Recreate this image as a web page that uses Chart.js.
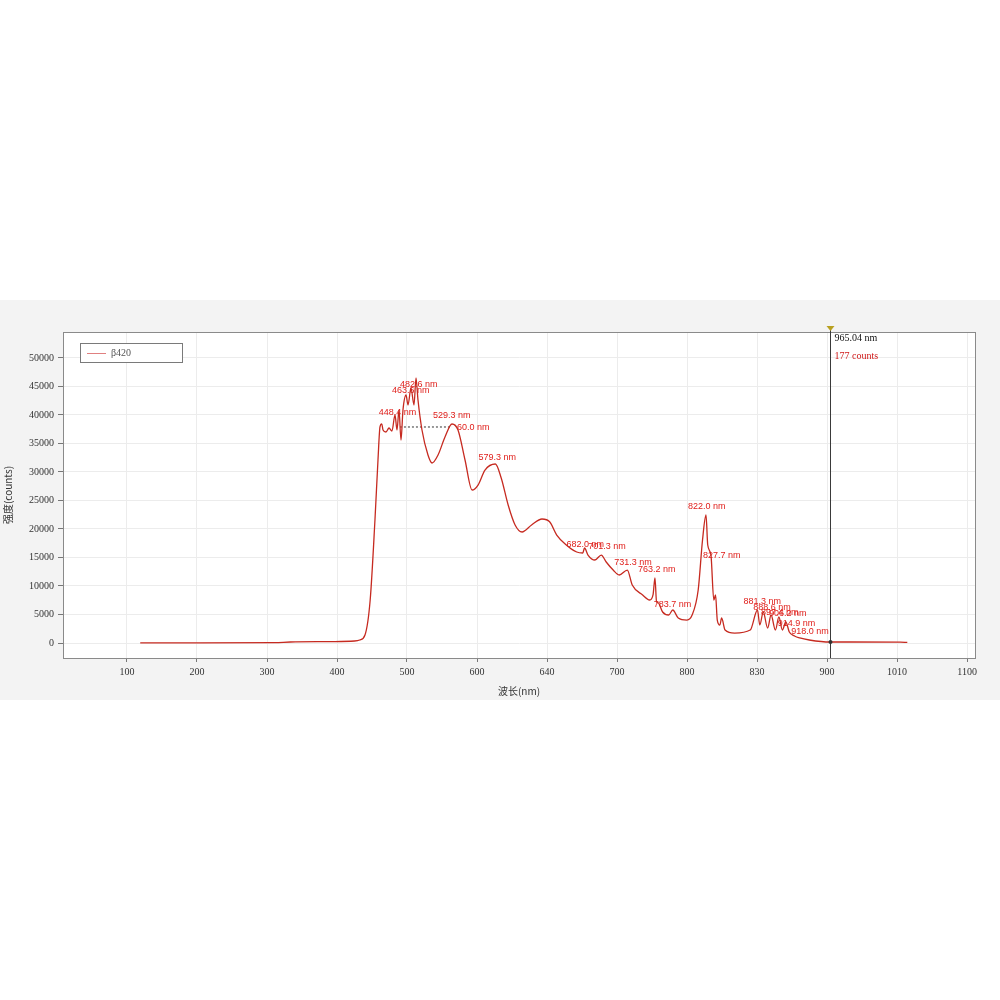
<!DOCTYPE html>
<html>
<head>
<meta charset="utf-8">
<script src="https://cdn.jsdelivr.net/npm/chart.js@4"></script>
<style>
  html, body { margin: 0; padding: 0; background: #ffffff; }
  #band { position: absolute; left: 0; top: 300px; width: 1000px; height: 400px; background: #f3f3f3; }
</style>
</head>
<body>
<div id="band"><canvas id="spec" width="1000" height="400"></canvas></div>
<script>
//---------------------------------------------------------------------
// DONNÉES DU SPECTRE
//---------------------------------------------------------------------
const wavelength = [170, 239, 325, 343, 389, 417, 423, 429, 435, 440.5, 444, 446.3, 448.4, 449.8, 453.2, 456.7, 460.1,
  463.6, 465.9, 468.2, 470.5, 472.8, 476.3, 478.6, 482.0, 485.5, 487.8, 490.1, 494.7, 501.6, 506.3, 513.2, 521.2,
  529.3, 536.2, 544.3, 552.4, 559.3, 567.3, 579.3, 586, 594, 602, 610, 621, 633, 642, 650, 661, 673, 680, 682,
  686, 694, 701.3, 707, 715, 722, 731.3, 737, 749, 757, 761, 763.2, 765, 767, 772, 779, 783.7, 790, 800, 806,
  813, 818, 822.0, 824, 827.7, 831, 833, 835, 838, 840, 844, 855, 873, 881.3, 884, 888, 893, 897, 902, 906,
  910, 914, 918, 924, 930, 941, 965.04, 988, 1046, 1054];
const counts = [30, 20, 50, 180, 250, 350, 530, 1400, 7540, 21570, 32100, 37890, 38410, 37360, 37010, 37710, 37180,
  39990, 37360, 40870, 35610, 40870, 43500, 41750, 44730, 41750, 46480, 42620, 37360, 32980, 31570, 32980, 36130,
  38410, 37360, 32100, 26840, 27710, 30340, 31400, 28940, 24210, 20700, 19470, 20700, 21750, 21220, 18940, 17190, 15960, 15790, 16660,
  15430, 14560, 15430, 14210, 12800, 11930, 12800, 10170, 8420, 7540, 8500, 11400, 7200, 7020, 5440, 4910, 5790, 4390, 4030, 4910,
  9300, 18070, 22450, 17190, 15430, 7540, 8420, 4030, 3160, 4390, 2280, 1750, 2280, 5790, 3160, 5440, 2630, 4910, 2280, 4560,
  2280, 3680, 1930, 1230, 880, 530, 177, 180, 150, 100];

// largeur à mi-hauteur
const fwhmX = [469.3, 529.3];
const fwhmY = [37890, 37890];

// étiquettes des pics
const peakNm = [448.4, 463.6, 487.8, 529.3, 579.3, 682.0, 701.3, 731.3, 763.2, 783.7, 822.0, 827.7, 881.3, 888, 897, 906, 914, 918];
const peakCounts = [38410, 39990, 46480, 38410, 31400, 16660, 15430, 12800, 11400, 5790, 22450, 15430, 5790, 5440, 4910, 4560, 3680, 1930];
const peakText = ['448.4 nm', '463.6 nm', '482.6 nm', '529.3 nm', '579.3 nm', '682.0 nm', '701.3 nm', '731.3 nm', '763.2 nm',
  '783.7 nm', '822.0 nm', '827.7 nm', '881.3 nm', '888.6 nm', '897.4 nm', '906.2 nm', '914.9 nm', '918.0 nm'];
const fwhmText = '60.0 nm';

// curseur
const cursorNm = 965.04;
const cursorCounts = 177;
const cursorText = ['965.04 nm', '177 counts'];

// axes
const xTicks = [154.7, 235.4, 316.1, 396.8, 477.4, 558.1, 638.8, 719.5, 800.2, 880.9, 961.5, 1042.2, 1122.9];
const xTickLabels = ['100', '200', '300', '400', '500', '600', '640', '700', '800', '830', '900', '1010', '1100'];
const yTicks = [0, 5000, 10000, 15000, 20000, 25000, 30000, 35000, 40000, 45000, 50000];
const seriesName = 'β420';

//---------------------------------------------------------------------
// DÉCALAGES DES ÉTIQUETTES (pixels)
//---------------------------------------------------------------------
const peakDx = [-3, -3, -16, -19, -17, -18, -13, -13, -17, -19, -18, -8, -14, -10, -10, -10, -8, 2];
const peakDy = [-12, -24, 7, -9, -6, -4, -9, -8, -8, -5, -8, 0, -8, -4, -2, -3, 1, 0];

const lineColor = '#c62a20';
const textRed = '#e0201c';

//---------------------------------------------------------------------
// PLUGIN : cadre, légende, étiquettes, curseur
//---------------------------------------------------------------------
const decorPlugin = {
    id: 'decor',
    beforeDraw(chart) {
        const { ctx, chartArea: a } = chart;
        ctx.save();
        ctx.fillStyle = '#ffffff';
        ctx.fillRect(a.left, a.top, a.right - a.left, a.bottom - a.top);
        ctx.restore();
    },
    beforeDatasetsDraw(chart) {
        const { ctx, scales } = chart;
        ctx.save();
        ctx.font = '9px "Liberation Sans", Arial, sans-serif';
        ctx.fillStyle = textRed;
        ctx.textBaseline = 'middle';
        ctx.textAlign = 'left';
        peakNm.forEach((nm, i) => {
            const px = scales.x.getPixelForValue(nm);
            const py = scales.y.getPixelForValue(peakCounts[i]);
            ctx.fillText(peakText[i], px + peakDx[i], py + peakDy[i]);
        });
        const fx = scales.x.getPixelForValue(fwhmX[1]);
        const fy = scales.y.getPixelForValue(fwhmY[1]);
        ctx.fillText(fwhmText, fx + 5, fy + 1);
        ctx.restore();
    },
    afterDatasetsDraw(chart) {
        const { ctx, chartArea: a, scales } = chart;
        ctx.save();
        // cadre
        ctx.strokeStyle = '#8a8a8a';
        ctx.lineWidth = 1;
        ctx.strokeRect(a.left + 0.5, a.top + 0.5, a.right - a.left, a.bottom - a.top);

        // légende
        ctx.fillStyle = '#ffffff';
        ctx.fillRect(a.left + 17, a.top + 11, 102, 19);
        ctx.strokeStyle = '#7a7a7a';
        ctx.strokeRect(a.left + 17.5, a.top + 11.5, 102, 19);
        ctx.strokeStyle = '#e08080';
        ctx.beginPath();
        ctx.moveTo(a.left + 24, a.top + 21.5);
        ctx.lineTo(a.left + 43, a.top + 21.5);
        ctx.stroke();
        ctx.fillStyle = '#555';
        ctx.font = '10px "Liberation Serif", serif';
        ctx.textBaseline = 'middle';
        ctx.fillText(seriesName, a.left + 48, a.top + 21);

        // curseur vertical
        const cx = Math.round(scales.x.getPixelForValue(cursorNm)) + 0.5;
        const cy = scales.y.getPixelForValue(cursorCounts);
        ctx.strokeStyle = '#3a3a3a';
        ctx.beginPath();
        ctx.moveTo(cx, a.top - 4);
        ctx.lineTo(cx, a.bottom);
        ctx.stroke();
        ctx.fillStyle = '#b8a020';
        ctx.beginPath();
        ctx.moveTo(cx - 4, a.top - 6);
        ctx.lineTo(cx + 4, a.top - 6);
        ctx.lineTo(cx, a.top - 1);
        ctx.closePath();
        ctx.fill();
        ctx.fillStyle = '#333';
        ctx.beginPath();
        ctx.arc(cx, cy, 2, 0, Math.PI * 2);
        ctx.fill();
        ctx.font = '10px "Liberation Serif", serif';
        ctx.textAlign = 'left';
        ctx.fillStyle = '#111';
        ctx.fillText(cursorText[0], cx + 4, a.top + 6);
        ctx.fillStyle = '#d01818';
        ctx.fillText(cursorText[1], cx + 4, a.top + 24);
        ctx.restore();
    }
};

//---------------------------------------------------------------------
// GRAPHIQUE
//---------------------------------------------------------------------
const tickFont = { family: '"Liberation Serif", serif', size: 10 };

new Chart(document.getElementById('spec'), {
    type: 'line',
    data: {
        datasets: [
            {
                label: seriesName,
                data: wavelength.map((x, i) => ({ x: x, y: counts[i] })),
                borderColor: lineColor,
                borderWidth: 1.3,
                pointRadius: 0,
                cubicInterpolationMode: 'monotone',
                fill: false
            },
            {
                label: 'FWHM',
                data: fwhmX.map((x, i) => ({ x: x, y: fwhmY[i] })),
                borderColor: '#333',
                borderWidth: 1,
                borderDash: [2, 2],
                pointRadius: 0
            }
        ]
    },
    options: {
        responsive: false,
        animation: false,
        layout: { padding: { top: 32, right: 25, left: 0, bottom: 0 } },
        plugins: {
            legend: { display: false },
            tooltip: { enabled: false }
        },
        scales: {
            x: {
                type: 'linear',
                min: 81,
                max: 1132,
                afterBuildTicks: (s) => { s.ticks = xTicks.map(v => ({ value: v })); },
                afterFit: (s) => { s.height = 42; },
                ticks: {
                    color: '#333',
                    font: tickFont,
                    padding: 4,
                    maxRotation: 0,
                    autoSkip: false,
                    callback: (v, i) => xTickLabels[i]
                },
                grid: { color: '#ececec', tickColor: '#777', tickLength: 4 },
                border: { color: '#8a8a8a' },
                title: {
                    display: true,
                    text: '波长(nm)',
                    color: '#333',
                    font: { family: '"Noto Sans CJK SC", sans-serif', size: 10 },
                    padding: { top: 2, bottom: 3 }
                }
            },
            y: {
                type: 'linear',
                min: -2630,
                max: 54550,
                afterBuildTicks: (s) => { s.ticks = yTicks.map(v => ({ value: v })); },
                afterFit: (s) => { s.width = 63; },
                ticks: {
                    color: '#333',
                    font: tickFont,
                    padding: 4,
                    callback: (v) => String(v)
                },
                grid: { color: '#ececec', tickColor: '#777', tickLength: 5 },
                border: { color: '#8a8a8a' },
                title: {
                    display: true,
                    text: '强度(counts)',
                    color: '#333',
                    font: { family: '"Noto Sans CJK SC", sans-serif', size: 10 },
                    padding: { top: 2, bottom: 2 }
                }
            }
        }
    },
    plugins: [decorPlugin]
});
</script>
</body>
</html>
